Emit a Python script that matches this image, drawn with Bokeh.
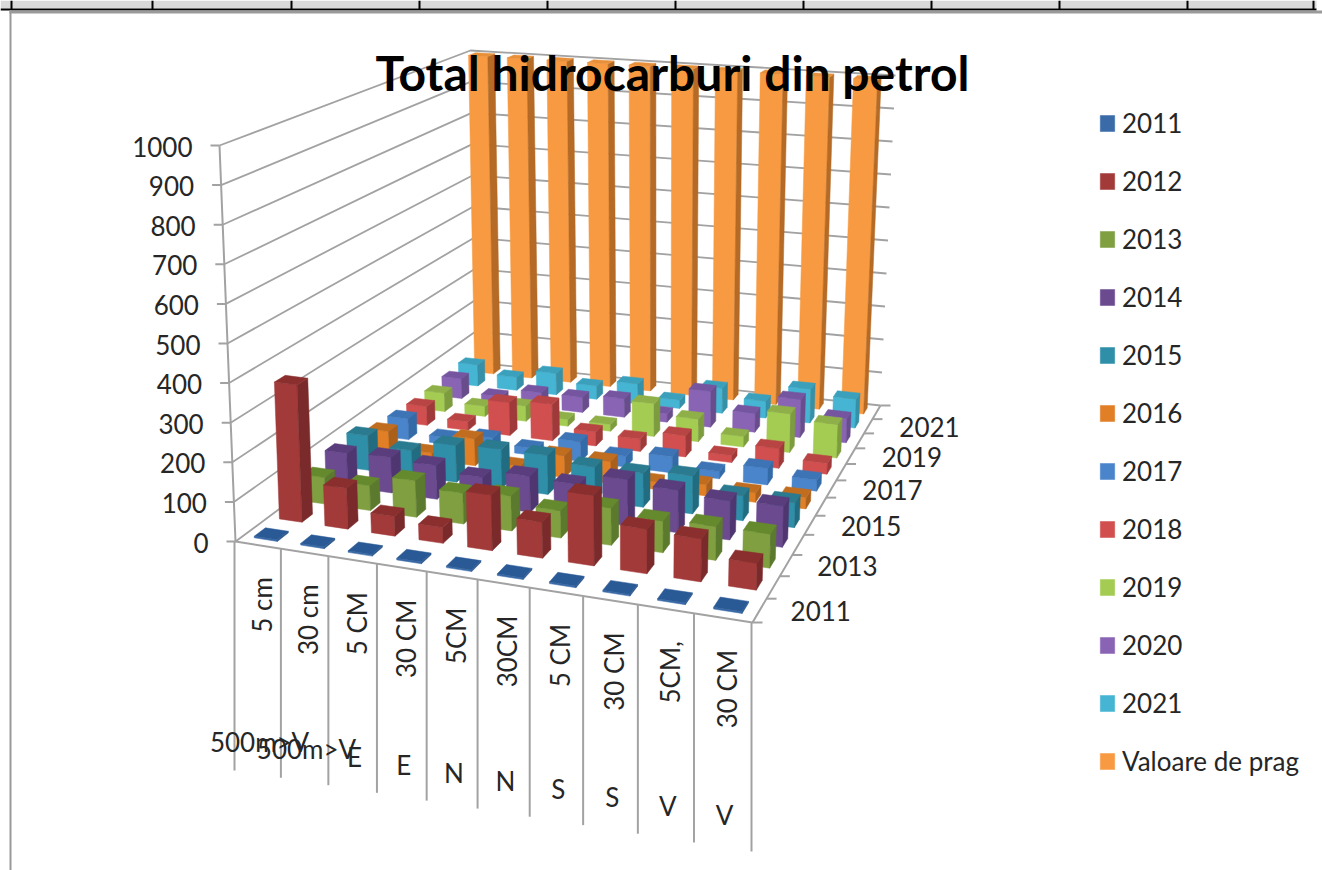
import numpy as np
from bokeh.core.properties import value
from bokeh.embed import file_html
from bokeh.models import ColumnDataSource, Legend, LegendItem, Range1d
from bokeh.plotting import figure
from bokeh.resources import INLINE

W, H = 1322, 870

title = "Total hidrocarburi din petrol"
level1 = ["5 cm", "30 cm", "5 CM", "30 CM", "5CM", "30CM", "5 CM", "30 CM", "5CM,", "30 CM"]
level2 = ["500m>V", "500m>V", "E", "E", "N", "N", "S", "S", "V", "V"]
series_names = ["2011", "2012", "2013", "2014", "2015", "2016", "2017", "2018", "2019", "2020", "2021", "Valoare de prag"]
depth_labels = ["2011", "2013", "2015", "2017", "2019", "2021"]
y_ticks = [0, 100, 200, 300, 400, 500, 600, 700, 800, 900, 1000]

v2011 = [4, 4, 4, 4, 4, 4, 4, 4, 4, 4]
v2012 = [355, 105, 50, 40, 140, 90, 175, 110, 105, 65]
v2013 = [70, 65, 95, 80, 90, 70, 95, 80, 85, 85]
v2014 = [90, 95, 90, 75, 95, 90, 120, 110, 100, 105]
v2015 = [95, 70, 100, 105, 105, 90, 90, 100, 65, 65]
v2016 = [65, 20, 75, 15, 60, 60, 20, 30, 25, 30]
v2017 = [60, 20, 35, 20, 55, 30, 45, 20, 45, 30]
v2018 = [55, 25, 95, 105, 40, 35, 60, 20, 55, 30]
v2019 = [55, 30, 45, 20, 20, 95, 65, 30, 110, 95]
v2020 = [60, 20, 45, 45, 55, 25, 105, 55, 110, 70]
v2021 = [65, 40, 65, 40, 60, 25, 75, 50, 100, 85]
vprag = [1000, 1000, 1000, 1000, 1000, 1000, 1000, 1000, 1000, 1000]
all_values = [v2011, v2012, v2013, v2014, v2015, v2016, v2017, v2018, v2019, v2020, v2021, vprag]

front_colors = ["#3A6BA8", "#A33A3A", "#7F9F40", "#6B4A90", "#2F8EA8", "#E07F25", "#4A85CC", "#D14F4E", "#A4CC52", "#8A64B4", "#45B5D3", "#F79A42"]
side_colors = ["#2A5488", "#7A2A2A", "#5B7A2D", "#503670", "#216C80", "#AA5F1A", "#336AA8", "#A03A3A", "#7C9C3E", "#694C8C", "#3590A8", "#B56A25"]
top_colors = ["#2A5A96", "#8A2E2E", "#658A2D", "#5A3D7C", "#2A7A90", "#C06D20", "#3D74B5", "#B84444", "#8FB048", "#7555A0", "#3BA0BC", "#E88F3A"]

GRID = "#a2a2a2"
TEXT = "#262626"
FONT = "Lato"
BAR_W, BAR_D = 0.5, 0.44
NC, NS = len(level1), len(series_names)

# the chart's box, as the picture shows it: floor corners and the corners at the level of 1000
FLOOR = [(235, 541), (752, 622), (880, 405), (476, 362)]
CEIL = [(219, 145), (764, 197), (895, 75), (470, 50)]


def homography(dst):
    src = [(0, 0), (1, 0), (1, 1), (0, 1)]
    A, b = [], []
    for (u, v), (x, y) in zip(src, dst):
        A.append([u, v, 1, 0, 0, 0, -u * x, -v * x]); b.append(x)
        A.append([0, 0, 0, u, v, 1, -u * y, -v * y]); b.append(y)
    return np.append(np.linalg.solve(np.array(A, float), np.array(b, float)), 1).reshape(3, 3)


H0, H1 = homography(FLOOR), homography(CEIL)


def proj(cat, ser, val):
    """Chart coordinates (category, series, value) to the picture's plane."""
    q = np.array([cat / NC, ser / NS, 1.0])
    a, b = H0 @ q, H1 @ q
    a, b = a[:2] / a[2], b[:2] / b[2]
    return tuple(a + (b - a) * val / 1000.0)


def poly(points):
    pts = [proj(*pt) for pt in points]
    return [pt[0] for pt in pts], [pt[1] for pt in pts]


p = figure(width=W, height=H, output_backend="svg", toolbar_location=None,
           x_range=Range1d(0, W), y_range=Range1d(H, 0), min_border=0,
           outline_line_color=None, background_fill_color="white")
p.axis.visible = False
p.grid.visible = False

# surrounding page: table strip above the chart and the chart's frame
cell_edges = [11, 152, 291, 419, 547, 675, 803, 931, 1059, 1187, 1313]
p.quad(left=[0], right=[1316], top=[0], bottom=[8], fill_color="#d9d9d9", line_color=None)
p.quad(left=[0], right=[1316], top=[8], bottom=[10], fill_color="black", line_color=None)
p.segment(x0=cell_edges, y0=[0] * 11, x1=cell_edges, y1=[9] * 11, line_color="black", line_width=2)
p.quad(left=[9], right=[1322], top=[10], bottom=[13], fill_color="#9a9a9a", line_color=None)
p.quad(left=[9], right=[11], top=[10], bottom=[870], fill_color="#9a9a9a", line_color=None)

# walls
grid_x, grid_y = [], []
for t in y_ticks:
    xs, ys = poly([(0, 0, t), (0, NS, t), (NC, NS, t)])
    grid_x.append(xs); grid_y.append(ys)
p.multi_line(grid_x, grid_y, line_color=GRID, line_width=1.8)

# floor edges and axis lines
fx, fy = poly([(0, 0, 1000), (0, 0, 0), (NC, 0, 0), (NC, NS, 0)])
p.line(fx, fy, line_color=GRID, line_width=2)

# value axis
tk = [proj(0, 0, t) for t in y_ticks]
p.segment([a[0] - 9 for a in tk], [a[1] for a in tk], [a[0] for a in tk], [a[1] for a in tk], line_color=GRID, line_width=2)
p.text([a[0] - 27 for a in tk], [a[1] + 1 for a in tk], text=[str(t) for t in y_ticks],
       text_font=value(FONT), text_font_size="26px", text_color=TEXT, text_align="right", text_baseline="middle")

# category axis: long separators and two levels of labels
for c in range(NC + 1):
    x0, y0 = proj(c, 0, 0)
    p.line([x0 - 1, x0 - 1], [y0, y0 + 229], line_color=GRID, line_width=2)
for c in range(NC):
    x0, y0 = proj(c + 0.5, 0, 0)
    p.text([x0 + 3], [y0 + 32], text=[level1[c]], angle=np.pi / 2, text_font=value(FONT), text_font_size="26px",
           text_color=TEXT, text_align="right", text_baseline="middle")
    p.text([x0 + 1], [y0 + 197], text=[level2[c]], text_font=value(FONT), text_font_size="26px",
           text_color=TEXT, text_align="center", text_baseline="middle")

# series axis
st = [proj(NC, s, 0) for s in range(NS + 1)]
p.segment([a[0] for a in st], [a[1] for a in st], [a[0] + 10 for a in st], [a[1] for a in st], line_color=GRID, line_width=2)
lab_pos = [proj(NC, 2 * i + 0.5, 0) for i in range(len(depth_labels))]
p.text([a[0] + 31 for a in lab_pos], [a[1] + 1 for a in lab_pos], text=depth_labels, text_font=value(FONT), text_font_size="26px",
       text_color=TEXT, text_align="left", text_baseline="middle")

# bars, from the back row to the front row and from left to right
items = [None] * NS
for s in range(NS - 1, -1, -1):
    xs, ys, cols = [], [], []
    for c in range(NC):
        val = all_values[s][c]
        c0, c1 = c + 0.5 - BAR_W / 2, c + 0.5 + BAR_W / 2
        s0, s1 = s + 0.5 - BAR_D / 2, s + 0.5 + BAR_D / 2
        faces = [
            ([(c0, s0, 0), (c1, s0, 0), (c1, s0, val), (c0, s0, val)], front_colors[s]),
            ([(c1, s0, 0), (c1, s1, 0), (c1, s1, val), (c1, s0, val)], side_colors[s]),
            ([(c0, s0, val), (c1, s0, val), (c1, s1, val), (c0, s1, val)], top_colors[s]),
        ]
        for pts, col in faces:
            a, b = poly(pts)
            xs.append(a); ys.append(b); cols.append(col)
    r = p.patches("xs", "ys", fill_color="cols", line_color="cols", line_width=0.5,
                  source=ColumnDataSource(dict(xs=xs, ys=ys, cols=cols)))
    items[s] = LegendItem(label=series_names[s], renderers=[r], index=0)

# title
p.text([672], [72], text=[title], text_font=value(FONT), text_font_style="bold", text_font_size="48px",
       text_color="black", text_align="center", text_baseline="middle")

legend = Legend(items=items, location=(1098, 93), orientation="vertical", border_line_color=None,
                background_fill_alpha=0, margin=0, padding=8, spacing=26, glyph_width=18, glyph_height=20,
                label_height=31, label_standoff=6, label_text_font=FONT, label_text_font_size="26px", label_text_color=TEXT)
p.add_layout(legend, "center")

open("out.html", "w").write(file_html(p, INLINE))
